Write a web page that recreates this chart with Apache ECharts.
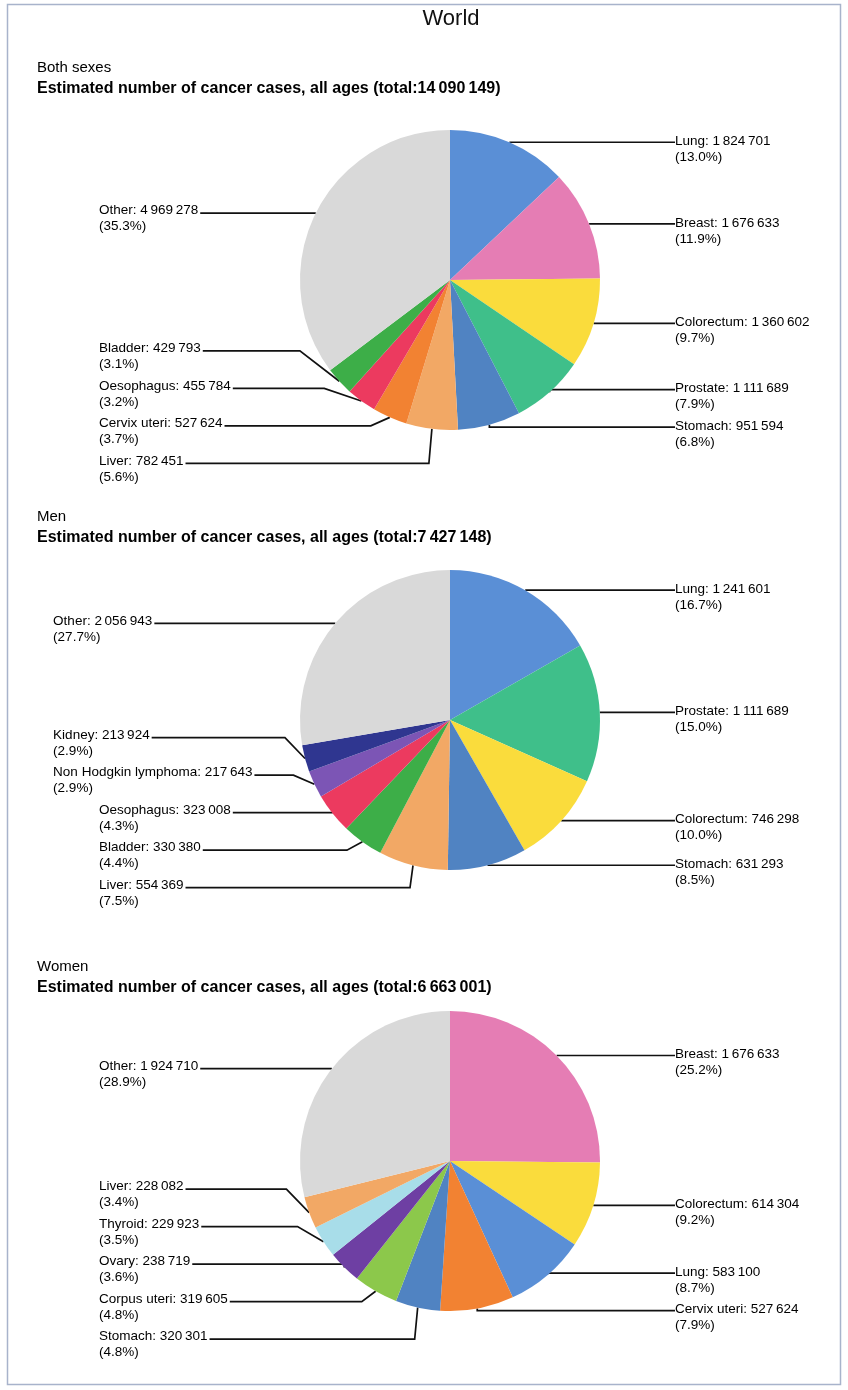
<!DOCTYPE html>
<html><head><meta charset="utf-8">
<script src="https://cdn.jsdelivr.net/npm/echarts@6/dist/echarts.min.js"></script>
<style>html,body{margin:0;padding:0;background:#fff}#c{width:848px;height:1390px}</style>
</head><body><div id="c"></div>
<script>
// ---- data ----
const bothNames = ['Lung','Breast','Colorectum','Prostate','Stomach','Liver','Cervix uteri','Oesophagus','Bladder','Other'];
const bothValues = [1824701,1676633,1360602,1111689,951594,782451,527624,455784,429793,4969278];
const bothPct = [13.0,11.9,9.7,7.9,6.8,5.6,3.7,3.2,3.1,35.3];

const menNames = ['Lung','Prostate','Colorectum','Stomach','Liver','Bladder','Oesophagus','Non Hodgkin lymphoma','Kidney','Other'];
const menValues = [1241601,1111689,746298,631293,554369,330380,323008,217643,213924,2056943];
const menPct = [16.7,15.0,10.0,8.5,7.5,4.4,4.3,2.9,2.9,27.7];

const womenNames = ['Breast','Colorectum','Lung','Cervix uteri','Stomach','Corpus uteri','Ovary','Thyroid','Liver','Other'];
const womenValues = [1676633,614304,583100,527624,320301,319605,238719,229923,228082,1924710];
const womenPct = [25.2,9.2,8.7,7.9,4.8,4.8,3.6,3.5,3.4,28.9];

const groupTitles = ['Both sexes','Men','Women'];

const colorMap = {
  'Lung':'#5A8FD6','Breast':'#E57DB4','Colorectum':'#FADC3C','Prostate':'#3FBF8A',
  'Stomach':'#5083C2','Liver':'#F2A865','Cervix uteri':'#F28232','Oesophagus':'#EC3A5F',
  'Bladder':'#3DAE48','Other':'#D9D9D9','Kidney':'#2F3690','Non Hodgkin lymphoma':'#7C55B5',
  'Corpus uteri':'#8CC84B','Ovary':'#6E3FA3','Thyroid':'#A8DDE9'
};

// ---- layout constants ----
const CX = 450, R = 150;
const RIGHT_COL = CX + 225, LEFT_COL = 99;
const GAP = 37.5, ELBOW_R = 166;
const FONT = '"Liberation Sans", Arial, Helvetica, sans-serif';
const LABEL_SIZE = 13.5, LABEL_LH = 16;

function fmt(v) { return String(v).replace(/\B(?=(\d{3})+(?!\d))/g, '\u2009'); }
function sum(a) { return a.reduce((s, v) => s + v, 0); }
function labelText(names, values, pct, i) {
  return names[i] + ': ' + fmt(values[i]) + '\n(' + pct[i].toFixed(1) + '%)';
}

const mctx = document.createElement('canvas').getContext('2d');
mctx.font = LABEL_SIZE + 'px ' + FONT;
function textWidth(t) { return Math.max.apply(null, t.split('\n').map(s => mctx.measureText(s).width)); }

// spread labels of one side vertically (balanced cluster merging)
function spread(list) {
  let clusters = list.map(it => ({ items: [it], s: it.ey }));
  const top = c => c.s / c.items.length - (c.items.length - 1) * GAP / 2;
  let merged = true;
  while (merged) {
    merged = false;
    for (let k = 0; k < clusters.length - 1; k++) {
      const a = clusters[k], b = clusters[k + 1];
      if (top(b) - (top(a) + (a.items.length - 1) * GAP) < GAP) {
        clusters.splice(k, 2, { items: a.items.concat(b.items), s: a.s + b.s });
        merged = true; break;
      }
    }
  }
  clusters.forEach(c => { const t = top(c); c.items.forEach((it, j) => { it.y = t + j * GAP; }); });
}

function computeLayout(names, values, pct, cy) {
  const total = sum(values);
  let acc = 0;
  const items = values.map((v, i) => {
    const mid = (acc + v / 2) / total * 2 * Math.PI; acc += v;
    const ex = CX + R * Math.sin(mid), ey = cy - R * Math.cos(mid);
    const w = textWidth(labelText(names, values, pct, i));
    return { i, ex, ey, w, left: ex < CX };
  });
  const L = items.filter(it => it.left).sort((a, b) => a.ey - b.ey);
  const Rt = items.filter(it => !it.left).sort((a, b) => a.ey - b.ey);
  spread(L); spread(Rt);
  L.forEach(it => { it.x = Math.min(LEFT_COL, it.ex - 62 - it.w); });
  let minIdx = -1, minX = LEFT_COL;
  L.forEach((it, k) => { if (it.x < minX) { minX = it.x; minIdx = k; } });
  if (minIdx > 0) for (let k = 0; k < minIdx; k++) L[k].x = minX;
  L.forEach(it => { it.endX = it.x + it.w + 2; });
  Rt.forEach(it => { it.x = RIGHT_COL; it.endX = RIGHT_COL; });
  items.forEach(it => {
    const shift = it.y - it.ey, dy = it.y - cy;
    const sgn = it.left ? -1 : 1;
    if (Math.abs(shift) < 4) it.elbowX = it.ex;
    else if (Math.abs(dy) < ELBOW_R) {
      const c = CX + sgn * Math.sqrt(ELBOW_R * ELBOW_R - dy * dy);
      it.elbowX = it.left ? Math.min(it.ex - 3, c) : Math.max(it.ex + 3, c);
    } else it.elbowX = it.ex + sgn * 3;
    if (it.left) it.elbowX = Math.max(it.elbowX, it.endX); else it.elbowX = Math.min(it.elbowX, it.endX);
  });
  const out = [];
  items.forEach(it => { out[it.i] = it; });
  return out;
}

function makeSeries(names, values, pct, cy) {
  const lay = computeLayout(names, values, pct, cy);
  return {
    type: 'pie', center: [CX, cy], radius: R, startAngle: 90, clockwise: true,
    animation: false, silent: true, emphasis: { disabled: true }, avoidLabelOverlap: false,
    data: names.map((n, i) => ({ name: n, value: values[i], itemStyle: { color: colorMap[n] } })),
    label: {
      show: true, position: 'outside',
      formatter: p => labelText(names, values, pct, p.dataIndex),
      fontFamily: FONT, fontSize: LABEL_SIZE, lineHeight: LABEL_LH, color: '#000'
    },
    labelLine: { show: true, length: 0, length2: 12, lineStyle: { color: '#111', width: 1.7 } },
    labelLayout: function (p) {
      const it = lay[p.dataIndex];
      const pts = p.labelLinePoints;
      const p0 = pts ? pts[0] : [it.ex, it.ey];
      const center = it.y - (it.left ? 2.5 : 1);
      return {
        x: it.x, y: center - LABEL_LH / 2, align: 'left', verticalAlign: 'top',
        labelLinePoints: [p0, [it.elbowX, it.y], [it.endX, it.y]]
      };
    }
  };
}

const totals = [sum(bothValues), sum(menValues), sum(womenValues)];
const headY = [68, 517, 967];

const graphics = [
  { type: 'rect', silent: true, shape: { x: 7.5, y: 4.5, width: 833, height: 1380 },
    style: { fill: 'none', stroke: '#A8B3CB', lineWidth: 1.5 } },
  { type: 'text', x: 451, y: 19, style: { text: 'World', font: '22px ' + FONT, fill: '#111',
    textAlign: 'center', align: 'center', textVerticalAlign: 'middle', verticalAlign: 'middle' } }
];
groupTitles.forEach((t, i) => {
  graphics.push({ type: 'text', x: 37, y: headY[i], style: { text: t, font: '15px ' + FONT, fill: '#000',
    textAlign: 'left', align: 'left', textVerticalAlign: 'middle', verticalAlign: 'middle' } });
  graphics.push({ type: 'text', x: 37, y: headY[i] + 20.5, style: {
    text: 'Estimated number of cancer cases, all ages (total:' + fmt(totals[i]) + ')',
    font: 'bold 16px ' + FONT, fill: '#000',
    textAlign: 'left', align: 'left', textVerticalAlign: 'middle', verticalAlign: 'middle' } });
});

const chart = echarts.init(document.getElementById('c'), null, { renderer: 'canvas' });
chart.setOption({
  animation: false,
  backgroundColor: '#fff',
  graphic: graphics,
  series: [
    makeSeries(bothNames, bothValues, bothPct, 280),
    makeSeries(menNames, menValues, menPct, 720),
    makeSeries(womenNames, womenValues, womenPct, 1161)
  ]
});
</script></body></html>
